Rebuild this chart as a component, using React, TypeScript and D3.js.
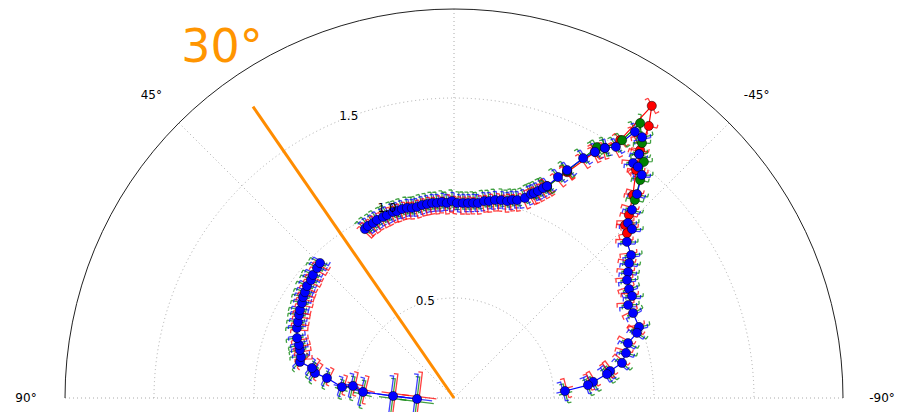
import React from 'react';
import * as d3 from 'd3';

const W = 898, H = 412;
const CX = 454, CY = 398, R_OUT = 389;
const R_MAX = 1.945;

const rTicks = [0.5, 1.0, 1.5];
const rTickLabels = ['0.5', '1.0', '1.5'];
const rLabelAngle = 22.5;
const thetaTicks = [90, 45, 0, -45, -90];
const thetaTickLabels = ['90°', '45°', '0°', '-45°', '-90°'];

const markerAngle = 34.6;
const markerR = 1.77;
const markerLabel = '30°';

// [theta (deg, positive = counter-clockwise from top), r]
const blueA: [number, number][] = [
  [91.5, 0.185], [88.1, 0.305], [86.2, 0.456], [83.2, 0.509], [84.4, 0.563], [81.1, 0.643],
  [79.8, 0.706], [78.1, 0.726], [76.8, 0.791], [75.0, 0.792], [72.7, 0.807], [71.1, 0.819],
  [69.1, 0.840], [66.0, 0.860], [64.0, 0.868], [61.8, 0.879], [60.3, 0.887], [58.0, 0.896],
  [56.2, 0.908], [54.6, 0.914], [52.7, 0.924], [50.5, 0.927], [48.9, 0.936], [46.5, 0.944],
  [44.8, 0.951],
];

const blueB: [number, number][] = [
  [27.8, 0.955], [26.6, 0.962], [24.8, 0.964], [23.4, 0.970], [21.4, 0.972], [20.1, 0.974],
  [18.2, 0.979], [17.0, 0.977], [15.4, 0.980], [13.9, 0.979], [12.5, 0.973], [11.0, 0.973],
  [9.4, 0.978], [7.9, 0.979], [6.4, 0.981], [5.0, 0.979], [3.5, 0.982], [2.1, 0.976],
  [0.6, 0.985], [-0.9, 0.975], [-2.6, 0.976], [-4.1, 0.977], [-5.6, 0.980], [-7.0, 0.982],
  [-8.7, 0.996], [-10.1, 1.000], [-11.7, 1.011], [-13.4, 1.017], [-15.1, 1.020], [-16.3, 1.032],
  [-17.7, 1.039], [-19.5, 1.061], [-20.7, 1.090], [-21.3, 1.100], [-22.1, 1.117], [-23.0, 1.140],
  [-23.7, 1.157], [-25.2, 1.221], [-26.4, 1.272], [-28.3, 1.362], [-29.8, 1.418], [-31.1, 1.460],
  [-32.8, 1.494], [-34.2, 1.609], [-35.8, 1.608], [-37.2, 1.531], [-37.3, 1.477], [-38.5, 1.477],
  [-40.1, 1.458], [-41.9, 1.370], [-43.4, 1.295], [-44.8, 1.234], [-46.5, 1.227], [-47.9, 1.165],
  [-51.1, 1.138], [-52.4, 1.105], [-54.1, 1.074], [-55.7, 1.047], [-58.1, 1.031], [-60.2, 1.026],
  [-61.9, 0.987], [-64.6, 0.991], [-69.0, 0.991], [-70.4, 0.971], [-72.5, 0.912], [-75.3, 0.889],
  [-78.2, 0.858], [-80.2, 0.792], [-81.1, 0.774], [-83.4, 0.700], [-84.5, 0.673], [-86.4, 0.556],
];

const redSeries: [number, number][] = [
  [-23.7, 1.157], [-26.6, 1.263], [-29.8, 1.418], [-32.8, 1.534], [-34.1, 1.764], [-35.6, 1.673],
  [-36.9, 1.550], [-38.6, 1.459], [-41.4, 1.353], [-43.7, 1.266], [-44.7, 1.216], [-46.4, 1.195],
];

const greenSeries: [number, number][] = [
  [-23.8, 1.153], [-26.5, 1.268], [-29.7, 1.444], [-31.1, 1.460], [-33.1, 1.539], [-34.1, 1.660],
  [-36.4, 1.584], [-37.2, 1.531], [-38.8, 1.515], [-40.5, 1.433], [-42.4, 1.341],
];

const rScale = d3.scaleLinear().domain([0, R_MAX]).range([0, R_OUT]);
const rad = (deg: number) => (deg * Math.PI) / 180;
const toXY = (th: number, rv: number): [number, number] => [
  CX - rScale(rv) * Math.sin(rad(th)),
  CY - rScale(rv) * Math.cos(rad(th)),
];

const lineGen = d3
  .line<[number, number]>()
  .x((d) => toXY(d[0], d[1])[0])
  .y((d) => toXY(d[0], d[1])[1]);

function ringPath(rv: number) {
  const p = d3.path();
  const rr = rScale(rv);
  p.moveTo(CX - rr, CY);
  p.arc(CX, CY, rr, Math.PI, 2 * Math.PI, false);
  return p.toString();
}

const colorShift: Record<string, [number, number]> = {
  '#ff0000': [-2, 2.5],
  '#008000': [0, -2.5],
  '#0000ff': [2, 0],
};

function glyphs(pts: [number, number][], colors: string[], prefix: string) {
  const P = pts.map((d) => toXY(d[0], d[1]));
  const out: React.ReactNode[] = [];
  P.forEach((p, i) => {
    const a = P[Math.max(0, i - 1)];
    const b = P[Math.min(P.length - 1, i + 1)];
    let tx = b[0] - a[0], ty = b[1] - a[1];
    const L = Math.hypot(tx, ty) || 1;
    tx /= L; ty /= L;
    const nx = -ty, ny = tx;
    const rv = pts[i][1];
    const h = rv < 0.6 ? 8 + (0.6 - rv) * 40 : 8.5;
    const hc = rv < 0.6 ? h * 0.7 : 0;
    colors.forEach((c, k) => {
      const [st, sn] = colors.length > 1 ? colorShift[c] : [0, 0];
      const bx = p[0] + tx * st + nx * sn, by = p[1] + ty * st + ny * sn;
      let d = `M${bx - nx * h},${by - ny * h}L${bx + nx * h},${by + ny * h}l${tx * 4},${ty * 4}`;
      d += `M${bx - nx * h},${by - ny * h}l${-tx * 3.5},${-ty * 3.5}`;
      if (hc) d += `M${bx - tx * hc},${by - ty * hc}L${bx + tx * hc},${by + ty * hc}`;
      out.push(
        <path key={`${prefix}-${i}-${k}`} d={d} stroke={c} strokeWidth={1.3} fill="none" opacity={0.75} />
      );
    });
  });
  return out;
}

function dots(pts: [number, number][], color: string, prefix: string) {
  return pts.map((d, i) => {
    const [x, y] = toXY(d[0], d[1]);
    return <circle key={`${prefix}-${i}`} cx={x} cy={y} r={4.6} fill={color} stroke="#000" strokeWidth={0.5} />;
  });
}

export default function App() {
  const font = '"DejaVu Sans", sans-serif';
  const gridStyle = { stroke: '#aaaaaa', strokeWidth: 1, strokeDasharray: '1,3', fill: 'none' };
  const labelR = R_OUT + 39;
  const [mx, my] = toXY(markerAngle, markerR);
  const rgb = ['#ff0000', '#008000', '#0000ff'];
  return (
    <svg width={W} height={H} style={{ position: 'absolute', left: 0, top: 0, background: '#fff' }}>
      <rect x={0} y={0} width={W} height={H} fill="#fff" />
      {/* angular grid */}
      {thetaTicks.map((t) => {
        const [x, y] = toXY(t, R_MAX);
        return <line key={`tg${t}`} x1={CX} y1={CY} x2={x} y2={y} style={gridStyle} />;
      })}
      {/* radial rings */}
      {rTicks.map((t) => (
        <path key={`rg${t}`} d={ringPath(t)} style={gridStyle} />
      ))}
      {/* spine */}
      <path d={ringPath(R_MAX)} fill="none" stroke="#222" strokeWidth={1} />
      {/* theta labels (the 0° label lies above the visible area) */}
      {thetaTicks.map((t, i) => {
        const x = CX - labelR * Math.sin(rad(t));
        const y = CY - labelR * Math.cos(rad(t));
        if (y < 10) return null;
        return (
          <text key={`tl${t}`} x={x} y={y} textAnchor="middle" dominantBaseline="central" fontFamily={font} fontSize={12} fill="#000">
            {thetaTickLabels[i]}
          </text>
        );
      })}
      {/* data */}
      <g>
        {glyphs(blueA, rgb, 'ga')}
        {glyphs(blueB, rgb, 'gb')}
        {glyphs(redSeries, ['#ff0000'], 'gr')}
        {glyphs(greenSeries, ['#008000'], 'gg')}
        <path d={lineGen(redSeries) || ''} fill="none" stroke="#ff0000" strokeWidth={1.2} />
        <path d={lineGen(greenSeries) || ''} fill="none" stroke="#008000" strokeWidth={1.2} />
        <path d={lineGen(blueA) || ''} fill="none" stroke="#0000ff" strokeWidth={1.2} />
        <path d={lineGen(blueB) || ''} fill="none" stroke="#0000ff" strokeWidth={1.2} />
        {dots(redSeries, '#ff0000', 'dr')}
        {dots(greenSeries, '#008000', 'dg')}
        {dots(blueA, '#0000ff', 'da')}
        {dots(blueB, '#0000ff', 'db')}
      </g>
      {/* r labels drawn above data */}
      {rTicks.map((t, i) => {
        const [x, y] = toXY(rLabelAngle, t);
        return (
          <text key={`rl${t}`} x={x} y={y - 1} textAnchor="start" fontFamily={font} fontSize={12} fill="#000">
            {rTickLabels[i]}
          </text>
        );
      })}
      {/* marker line and label */}
      <line x1={CX} y1={CY} x2={mx} y2={my} stroke="#ff8c00" strokeWidth={3} />
      <text x={222} y={62} textAnchor="middle" fontFamily={font} fontSize={46} fill="#ff9500">
        {markerLabel}
      </text>
    </svg>
  );
}
